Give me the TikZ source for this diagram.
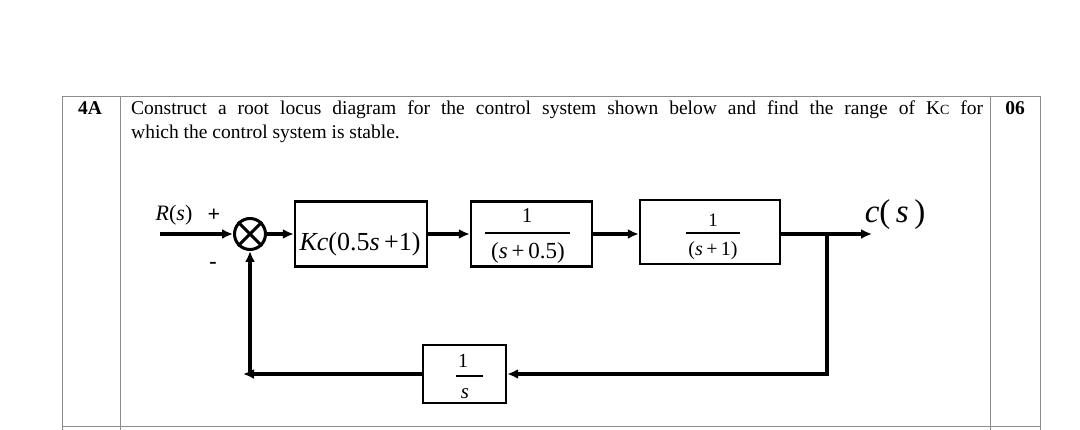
\documentclass[tikz,border=0pt]{standalone}
\usepackage{fontspec}
\setmainfont{Liberation Serif}
\usetikzlibrary{arrows.meta,calc}
\newcommand{\Kcsub}{K\raisebox{-0.5pt}{\fontsize{14}{14}\selectfont C}}
\begin{document}
\begin{tikzpicture}[x=1pt,y=-1pt,
  tbl/.style={draw=black!45, line width=0.9pt},
  blk/.style={draw, line width=2.4pt, rectangle, inner sep=0pt},
  sig/.style={line width=3.4pt, -{Latex[length=11pt,width=10pt]}},
  bar/.style={line width=1.3pt},
  lbl/.style={inner sep=0pt, anchor=base},
  body/.style={font=\fontsize{19.5}{24}\selectfont}
]
\useasboundingbox (0,0) rectangle (1080,430);
\fill[white] (0,0) rectangle (1080,430);

% table
\coordinate (tl) at (62,96);
\coordinate (tr) at (1040,96);
\draw[tbl] (tl) -- (tr);
\draw[tbl] (62,96) -- (62,430);
\draw[tbl] (120.5,96) -- (120.5,430);
\draw[tbl] (990.5,96) -- (990.5,430);
\draw[tbl] (1040,96) -- (1040,430);
\draw[tbl] (62,426) -- (1040,426);

\node[lbl, font=\fontsize{19.5}{24}\selectfont\bfseries] (qno) at (90,115) {4A};
\node[lbl, font=\fontsize{19.5}{24}\selectfont\bfseries] (marks) at (1015,115) {06};
\node[body, anchor=north west, inner sep=0pt, text width=852pt, align=justify] (qtext) at (131,100.5)
  {Construct a root locus diagram for the control system shown below and find the range of \Kcsub{} for\linebreak which the control system is stable.};

% blocks
\node[draw, circle, line width=3pt, minimum size=31pt, inner sep=0pt] (sum) at (250,234) {};
\draw[line width=3pt] (sum.45) -- (sum.225) (sum.135) -- (sum.-45);

\node[blk, minimum width=132pt, minimum height=65pt] (kc) at (361,234) {};
\node[lbl, font=\fontsize{26}{26}\selectfont] (kct) at (360,251) {\textit{Kc}(0.5\textit{s}\,+1)};

\node[blk, minimum width=121pt, minimum height=65pt] (g1) at (531.5,234) {};
\node[lbl, font=\fontsize{21}{21}\selectfont] (g1n) at (527,223) {1};
\draw[bar] (485,233) -- (570,233);
\node[lbl, font=\fontsize{23}{23}\selectfont] (g1d) at (528,259) {(\textit{s}\,+\,0.5)};

\node[blk, minimum width=140pt, minimum height=64pt] (g2) at (710,232) {};
\node[lbl, font=\fontsize{19}{19}\selectfont] (g2n) at (713,227) {1};
\draw[bar] (686,233) -- (740,233);
\node[lbl, font=\fontsize{20}{20}\selectfont] (g2d) at (713,256) {(\textit{s}\,+\,1)};

\node[blk, minimum width=83pt, minimum height=58pt] (h) at (464.5,374) {};
\node[lbl, font=\fontsize{20}{20}\selectfont] (hn) at (463,368) {1};
\draw[bar] (456,376) -- (483,376);
\node[lbl, font=\fontsize{21}{21}\selectfont] (hd) at (465,399) {\textit{s}};

% labels
\node[lbl, font=\fontsize{22}{22}\selectfont] (rl) at (174,221) {\textit{R}(\textit{s})};
\node[lbl, font=\fontsize{22}{22}\selectfont\bfseries] (plus) at (214,222) {+};
\node[lbl, font=\fontsize{22}{22}\selectfont\bfseries] (minus) at (213,269) {-};
\node[lbl, font=\fontsize{33}{33}\selectfont] (cl) at (895,223) {\textit{c}(\,\textit{s}\,)};

% connectors
\coordinate (rin) at (160,234);
\coordinate (out) at (872,234);
\coordinate (br) at (827,234);
\coordinate (fbl) at (243,374);
\coordinate (fbc) at (250,376);

\draw[sig] (rin) -- (sum.west);
\draw[sig] (sum.east) -- (kc.west);
\draw[sig] (kc.east) -- (g1.west);
\draw[sig] (g1.east) -- (g1.east -| g2.west);
\draw[sig] (g1.east -| g2.east) -- (out);
\draw[sig] (br) |- (h.east);
\draw[sig] (h.west) -- (fbl);
\draw[sig] (fbc) -- (sum.south);
\end{tikzpicture}
\end{document}
